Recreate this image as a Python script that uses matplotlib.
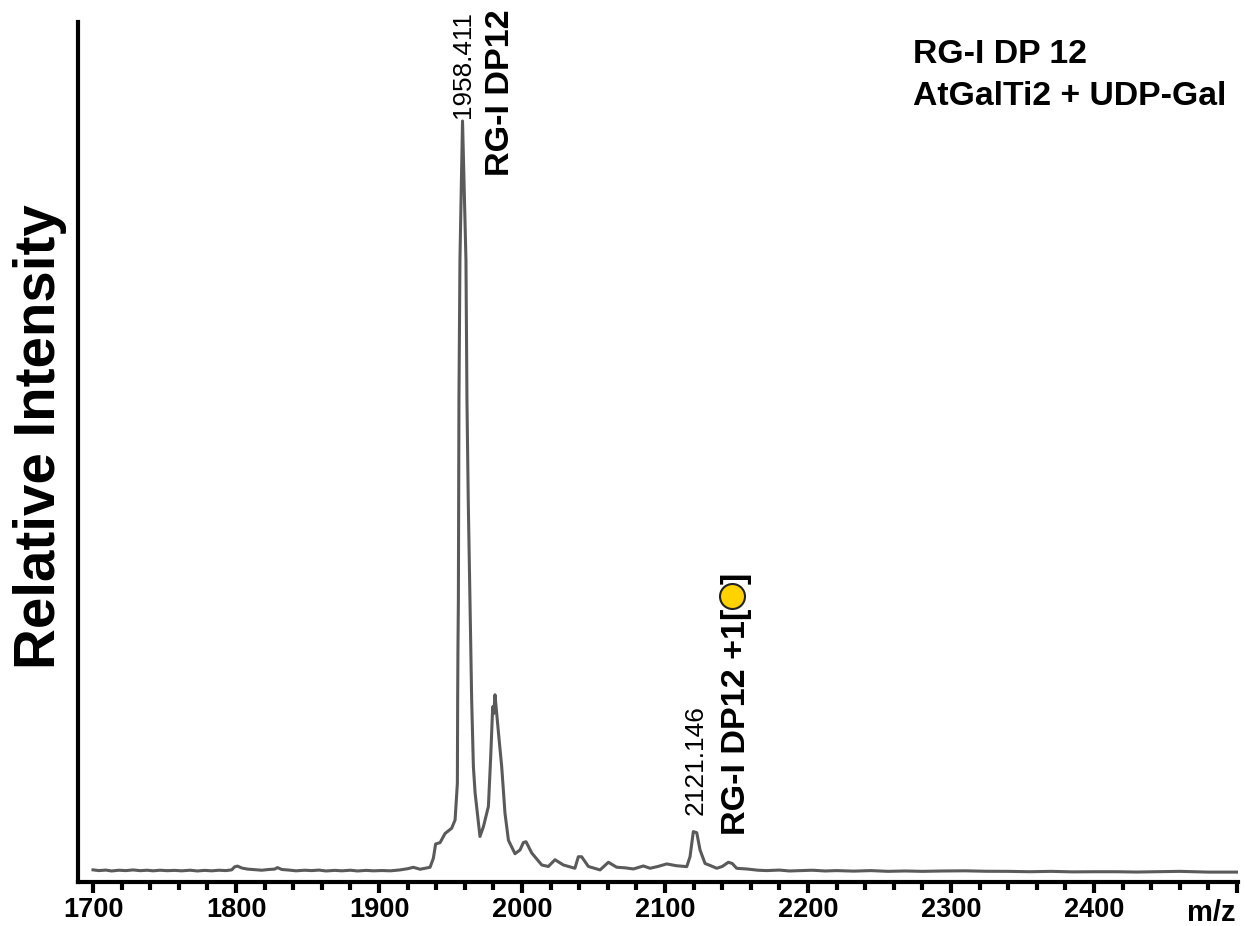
# MALDI spectrum, RG-I DP12 + AtGalTi2
import matplotlib
matplotlib.use('Agg')
from matplotlib import pyplot as plt

plt.rcParams['font.family'] = ['Liberation Sans', 'DejaVu Sans']

# 基线和峰的读数
mz = [1700, 1704, 1709, 1713, 1718, 1723, 1728, 1733, 1738, 1742, 1747, 1752, 1757, 1762, 1768, 1773, 1778,
      1783, 1788, 1793, 1797, 1799, 1801, 1804, 1808, 1813, 1818, 1823, 1827, 1829, 1832, 1837, 1842, 1848,
      1853, 1858, 1863, 1869, 1874, 1880, 1885, 1891, 1896, 1902, 1908, 1914.7, 1920, 1924, 1928.7, 1935.7,
      1938, 1939.6, 1942.7, 1946.2, 1950.8, 1953.2, 1954.8, 1955, 1955.2, 1955.5, 1955.9, 1956.6, 1957.7, 1958.4,
      1959.4, 1960.8, 1961.5, 1962.4, 1963.6, 1964.8, 1966, 1967.2, 1970.6, 1973, 1976.5, 1978.1, 1979.5,
      1980.3, 1981.1, 1982.3, 1983.5, 1985.8, 1988.1, 1990.5, 1995.1, 1998.6, 2001, 2002.8, 2006.8, 2013.8,
      2018.4, 2023.1, 2028.9, 2037, 2039.4, 2041.7, 2046.4, 2054.6, 2060.4, 2066.2, 2072, 2077.9, 2084.9, 2089.5,
      2095, 2101.2, 2108, 2115.2, 2117.5, 2119.8, 2122.2, 2124.5, 2128, 2132, 2136.2, 2140, 2144.3, 2147, 2150.1,
      2158, 2165, 2171.1, 2180, 2187, 2194.4, 2203, 2212, 2220, 2232, 2244, 2256, 2268, 2280, 2295, 2310, 2325,
      2340, 2355, 2370, 2385, 2400, 2415, 2430, 2445, 2460, 2480, 2500]
intensity = [0.15, 0.05, 0.12, 0.0, 0.1, 0.05, 0.14, 0.04, 0.1, 0.02, 0.1, 0.04, 0.08, 0.02, 0.1, 0.0, 0.08,
             0.02, 0.1, 0.05, 0.15, 0.55, 0.65, 0.4, 0.25, 0.18, 0.1, 0.2, 0.25, 0.45, 0.2, 0.12, 0.02, 0.1,
             0.05, 0.12, 0.0, 0.08, 0.02, 0.1, 0.0, 0.08, 0.02, 0.06, 0.02, 0.14, 0.3, 0.49, 0.23, 0.49,
             1.69, 3.6, 3.78, 5.0, 5.7, 6.8, 11.7, 22.8, 29.5, 36.1, 62.8, 81.5, 92.5, 100,
             92.5, 81.5, 62.8, 49.5, 36.1, 22.8, 13.9, 10.4, 4.6, 5.9, 8.6, 15.2, 21.9,
             21.0, 23.5, 21.0, 18.5, 13.9, 7.7, 4.1, 2.3, 2.8, 3.8, 3.9, 2.4, 0.8,
             0.6, 1.5, 0.8, 0.36, 1.9, 1.9, 0.6, 0.14, 1.16, 0.5, 0.42, 0.27, 0.67, 0.36,
             0.6, 0.94, 0.7, 0.58, 1.9, 5.25, 5.1, 2.8, 1.0, 0.7, 0.36, 0.6, 1.16, 1.0, 0.36,
             0.25, 0.1, 0.05, 0.12, 0.0, 0.05, 0.1, 0.0, 0.05, -0.02, 0.05, -0.05, 0.0, -0.05, 0.0, 0.02, -0.04,
             -0.05, -0.1, -0.05, -0.12, -0.1, -0.1, -0.14, -0.1, -0.05, -0.15, -0.15]

major_ticks = [1700, 1800, 1900, 2000, 2100, 2200, 2300, 2400, 2500]
major_labels = ['1700', '1800', '1900', '2000', '2100', '2200', '2300', '2400', '']
minor_ticks = [t for t in range(1700, 2501, 20) if t % 100 != 0]

fig = plt.figure(figsize=(12.44, 9.26), dpi=100)
ax = fig.add_axes([78 / 1244, 44 / 926, 1160 / 1244, 860 / 926])
ax.plot(mz, intensity, color='#5a5a5a', lw=2.2)
ax.set_xlim(1689.5, 2500.7)
ax.set_ylim(-1.47, 113.2)

ax.spines['top'].set_visible(False)
ax.spines['right'].set_visible(False)
ax.spines['left'].set_linewidth(3)
ax.spines['bottom'].set_linewidth(3)
ax.set_yticks([])
ax.set_xticks(major_ticks)
ax.set_xticklabels(major_labels, fontsize=19.5, fontweight='bold')
ax.set_xticks(minor_ticks, minor=True)
ax.tick_params(axis='x', which='major', length=8, width=3, pad=3)
ax.tick_params(axis='x', which='minor', length=6, width=3)

fig.text(40 / 1244, 1 - 437 / 926, 'Relative Intensity', rotation=90, fontsize=40.7, fontweight='bold',
         ha='center', va='center')
fig.text(1211 / 1244, 1 - 913 / 926, 'm/z', fontsize=21, fontweight='bold', ha='center', va='center')
fig.text(913 / 1244, 1 - 63 / 926, 'RG-I DP 12', fontsize=24.3, fontweight='bold', ha='left', va='baseline')
fig.text(913 / 1244, 1 - 105 / 926, 'AtGalTi2 + UDP-Gal', fontsize=24.3, fontweight='bold', ha='left', va='baseline')

# 峰的标注
ax.text(1958.4, 100.4, '1958.411', rotation=90, fontsize=18.8, ha='center', va='bottom')
ax.text(1985, 92.6, 'RG-I DP12', rotation=90, fontsize=24.6, fontweight='bold', ha='center', va='bottom')
ax.text(2121.1, 7.4, '2121.146', rotation=90, fontsize=19, ha='center', va='bottom')
ax.text(2150, 4.8, 'RG-I DP12 +1[', rotation=90, fontsize=24.6, fontweight='bold', ha='center', va='bottom')
ax.text(2150, 38.3, ']', rotation=90, fontsize=24.6, fontweight='bold', ha='center', va='bottom')
ax.plot([2147], [36.6], 'o', ms=18, mfc='#ffd200', mec='#222222', mew=1.5)

fig.savefig('out.png', dpi=100)
